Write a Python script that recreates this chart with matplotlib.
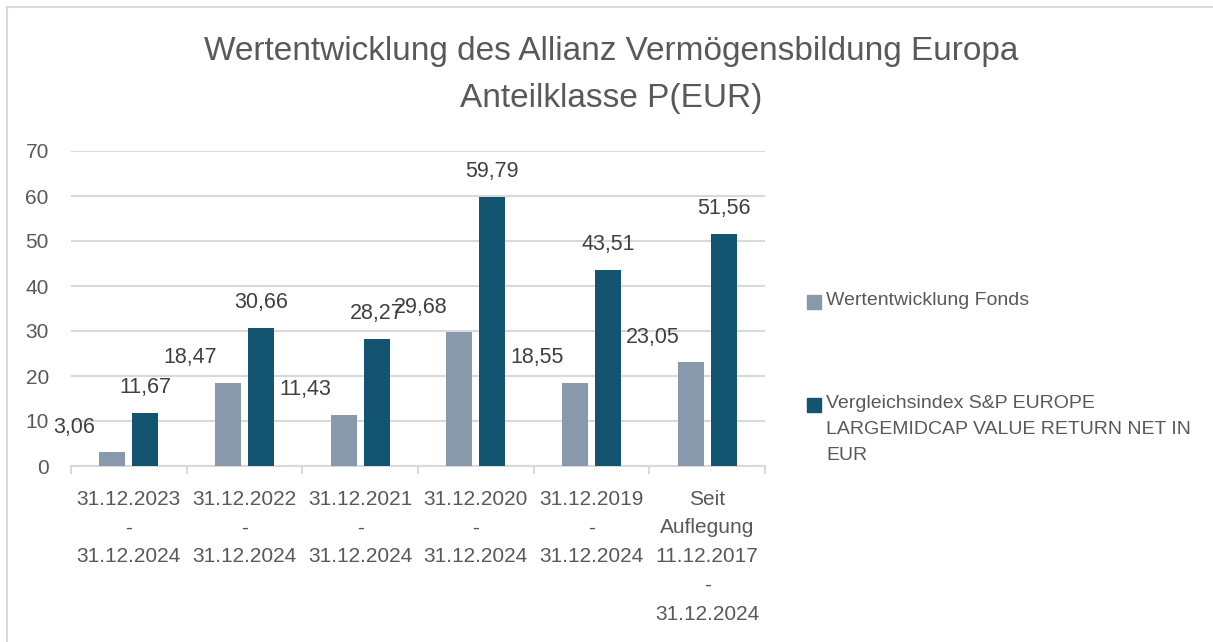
import matplotlib.pyplot as plt
from matplotlib.patches import Rectangle
from matplotlib.lines import Line2D
import numpy as np

plt.rcParams['font.family'] = ['Liberation Sans', 'DejaVu Sans']

# data
categories = ['31.12.2023\n-\n31.12.2024', '31.12.2022\n-\n31.12.2024',
              '31.12.2021\n-\n31.12.2024', '31.12.2020\n-\n31.12.2024',
              '31.12.2019\n-\n31.12.2024',
              'Seit\nAuflegung\n11.12.2017\n-\n31.12.2024']
fonds = [3.06, 18.47, 11.43, 29.68, 18.55, 23.05]
index = [11.67, 30.66, 28.27, 59.79, 43.51, 51.56]
series_names = ['Wertentwicklung Fonds',
                'Vergleichsindex S&P EUROPE\nLARGEMIDCAP VALUE RETURN NET IN\nEUR']
title = 'Wertentwicklung des Allianz Vermögensbildung Europa\nAnteilklasse P(EUR)'

c_fonds = '#8799AA'
c_index = '#135470'
grid_c = '#D9D9D9'
txt_c = '#595959'
lbl_c = '#404040'

W, H = 1213, 642
fig = plt.figure(figsize=(W / 100, H / 100), dpi=100)
ax = fig.add_axes([71 / W, 1 - 466 / H, (765 - 71) / W, (466 - 151) / H])

x = np.arange(len(categories))
bw = 0.225
off = 0.143
ax.bar(x - off, fonds, bw, color=c_fonds, zorder=3)
ax.bar(x + off, index, bw, color=c_index, zorder=3)

# data labels (Excel puts the fund labels up and to the left)
for xi, v in zip(x, fonds):
    ax.annotate(f'{v:.2f}'.replace('.', ','), (xi - off, v), xytext=(-27.5, 18),
                textcoords='offset points', ha='center', va='center',
                fontsize=15.5, color=lbl_c, zorder=4)
for xi, v in zip(x, index):
    ax.annotate(f'{v:.2f}'.replace('.', ','), (xi + off, v), xytext=(0, 18.5),
                textcoords='offset points', ha='center', va='center',
                fontsize=15.5, color=lbl_c, zorder=4)

ax.set_xlim(-0.5, len(categories) - 0.5)
ax.set_ylim(0, 70)
ax.set_yticks(range(0, 71, 10))
ax.grid(axis='y', color=grid_c, linewidth=1.5, zorder=0)
for s in ['top', 'right', 'left']:
    ax.spines[s].set_visible(False)
ax.spines['bottom'].set_color(grid_c)
ax.spines['bottom'].set_linewidth(1.5)
ax.spines['bottom'].set_zorder(2)

ax.set_xticks(x)
ax.set_xticklabels(categories, fontsize=15, color=txt_c, linespacing=1.65, va='top')
ax.tick_params(axis='x', length=0, pad=17)
ax.set_xticks(np.arange(-0.5, len(categories)), minor=True)
ax.tick_params(axis='x', which='minor', length=6, width=1.5, color=grid_c)
ax.tick_params(axis='y', length=0, pad=16, labelsize=15, labelcolor=txt_c)

fig.text(611 / W, 1 - 75 / H, title, ha='center', va='center', fontsize=24,
         color=txt_c, linespacing=1.68)

# legend drawn by hand
leg_y = [302, 405]
for col, name, yy in zip([c_fonds, c_index], series_names, leg_y):
    fig.patches.append(Rectangle((807 / W, 1 - (yy + 7) / H), 14 / W, 14 / H,
                                 transform=fig.transFigure, color=col))
    fig.text(826 / W, 1 - (yy - 10) / H, name, ha='left', va='top', fontsize=14,
             color=txt_c, linespacing=1.68)

# chart frame (top and left edges visible)
fig.lines.append(Line2D([6.5 / W, 1], [1 - 6.5 / H, 1 - 6.5 / H], transform=fig.transFigure,
                        color=grid_c, linewidth=1.5))
fig.lines.append(Line2D([6.5 / W, 6.5 / W], [0, 1 - 6.5 / H], transform=fig.transFigure,
                        color=grid_c, linewidth=1.5))

fig.savefig('out.png', dpi=100)
